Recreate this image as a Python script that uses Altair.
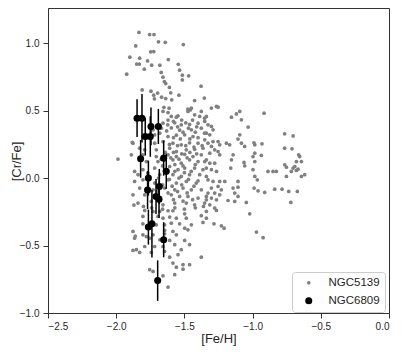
import altair as alt
import pandas as pd

# NGC5139 (grey points): [Fe/H], [Cr/Fe]
ngc5139_feh = [
    -1.833, -1.755, -1.723, -1.857, -1.690, -1.640, -1.508, -1.747, -1.725, -1.900,
    -1.828, -1.850, -1.830, -1.770, -1.794, -1.740, -1.680, -1.618, -1.545, -1.535,
    -1.923, -1.670, -1.657, -1.647, -1.515, -1.515, -1.469, -1.637, -1.610, -1.378,
    -1.810, -1.745, -1.725, -1.696, -1.600, -1.540, -1.720, -1.667, -1.637, -1.593,
    -1.354, -1.425,
    -1.650, -1.612, -1.474, -1.449, -1.302, -1.265, -1.253, -1.457,
    # core (upper)
    -1.657, -1.620, -1.547, -1.474, -1.425, -1.376, -1.339, -1.596, -1.559, -1.388,
    -1.352, -1.657, -1.622, -1.571, -1.523, -1.462, -1.400, -1.730, -1.669, -1.596,
    -1.535, -1.449, -1.376, -1.877, -1.804, -1.718, -1.681, -1.620, -1.559, -1.498,
    -1.437, -1.352, -1.828, -1.718, -1.657, -1.584, -1.523, -1.462, -1.400, -1.791,
    -1.706, -1.608, -1.559, -1.486, -1.425, -1.364, -1.889, -1.804, -1.706, -1.620,
    -1.559, -1.498, -1.437, -1.376, -1.987, -1.779, -1.694, -1.584, -1.523, -1.462,
    -1.400, -1.339, -1.865, -1.804, -1.718, -1.608, -1.547, -1.498, -1.425, -1.364,
    -1.840, -1.767, -1.681, -1.584, -1.523, -1.462, -1.388, -1.339, -1.865, -1.804,
    -1.718, -1.620, -1.559, -1.486, -1.413, -1.828, -1.730, -1.645, -1.571, -1.510,
    -1.449, -1.376, -1.877, -1.791, -1.694, -1.596, -1.535, -1.474, -1.400, -1.339,
    -1.840, -1.743, -1.657, -1.571, -1.486, -1.425, -1.352,
    # core extra
    -1.62, -1.58, -1.52, -1.49, -1.44, -1.41, -1.55, -1.47, -1.63, -1.51,
    -1.42, -1.58, -1.53, -1.46, -1.40, -1.61, -1.55, -1.49, -1.43, -1.37,
    -1.64, -1.58, -1.52, -1.46, -1.41, -1.67, -1.60, -1.54, -1.48, -1.42,
    -1.66, -1.57, -1.51, -1.45, -1.63, -1.57, -1.50, -1.69, -1.61, -1.54,
    -1.47, -1.40, -1.66, -1.59, -1.52, -1.43, -1.62, -1.55, -1.48, -1.70,
    -1.58, -1.51, -1.44, -1.74, -1.66, -1.57, -1.50, -1.42, -1.36, -1.80,
    -1.882, -1.87, -1.86,
    # right part
    -1.351, -1.327, -1.302, -1.290, -1.339, -1.314, -1.351, -1.327, -1.290, -1.253,
    -1.241, -1.302, -1.278, -1.253, -1.241, -1.314, -1.351, -1.314, -1.278, -1.339,
    -1.302, -1.265, -1.327, -1.290, -1.241, -1.204, -1.302, -1.253, -1.229, -1.327,
    -1.278, -1.241, -1.339, -1.302, -1.265, -1.314, -1.278,
    -1.155, -1.119, -1.094, -1.082, -1.033, -0.916,
    -1.094, -1.107, -1.082, -1.192, -1.168, -1.058, -0.984, -0.990, -0.931,
    -0.984, -0.997, -0.936, -1.143, -1.155, -0.984, -1.063, -1.058, -0.997, -0.984,
    -0.965, -1.160, -0.887, -0.850, -0.826, -0.765, -0.703, -0.765, -0.711, -0.662,
    -0.655, -0.679, -0.642, -0.765, -0.752, -0.703, -0.691, -0.667, -0.716, -0.679,
    -0.752, -0.642, -0.618,
    -1.107, -1.107, -1.143, -1.131, -1.107, -1.180, -1.131, -1.046, -0.989, -0.960,
    -0.911, -0.838, -0.784, -0.735, -0.672, -0.720,
    # lower part
    -1.791, -1.730, -1.681, -1.620, -1.584, -1.498, -1.376, -1.804, -1.694, -1.657,
    -1.608, -1.559, -1.486, -1.804, -1.706, -1.645, -1.596, -1.535, -1.449, -1.364,
    -1.498, -1.474, -1.877, -1.804, -1.779, -1.730, -1.645, -1.645, -1.584, -1.559,
    -1.865, -1.755, -1.681, -1.608, -1.498, -1.462, -1.791, -1.718, -1.657, -1.571,
    -1.877, -1.852, -1.828, -1.743, -1.645, -1.523, -1.547, -1.608, -1.376, -1.584,
    -1.559, -1.510, -1.462, -1.510, -1.755, -1.730, -1.657, -1.571, -1.620,
    -1.339, -1.265, -1.339, -1.283, -1.229, -1.209, -1.021, -0.972, -0.923,
]
ngc5139_crfe = [
    1.080, 1.064, 1.064, 0.980, 1.010, 1.007, 0.990, 0.936, 0.938, 0.896,
    0.889, 0.845, 0.845, 0.869, 0.807, 0.837, 0.837, 0.879, 0.844, 0.800,
    0.770, 0.783, 0.748, 0.716, 0.763, 0.728, 0.758, 0.701, 0.672, 0.681,
    0.654, 0.644, 0.615, 0.630, 0.632, 0.615, 0.588, 0.600, 0.590, 0.580,
    0.593, 0.575,
    0.525, 0.518, 0.511, 0.518, 0.519, 0.531, 0.526, 0.505,
    # core (upper)
    0.494, 0.486, 0.462, 0.494, 0.469, 0.494, 0.457, 0.457, 0.452, 0.457,
    0.444, 0.407, 0.395, 0.410, 0.395, 0.398, 0.407, 0.358, 0.370, 0.372,
    0.356, 0.358, 0.370, 0.259, 0.308, 0.321, 0.333, 0.308, 0.318, 0.321,
    0.308, 0.333, 0.222, 0.259, 0.271, 0.259, 0.247, 0.262, 0.259, 0.210,
    0.210, 0.222, 0.197, 0.210, 0.213, 0.222, 0.173, 0.173, 0.160, 0.173,
    0.160, 0.176, 0.160, 0.173, 0.141, 0.123, 0.123, 0.136, 0.111, 0.136,
    0.123, 0.136, 0.049, 0.062, 0.074, 0.086, 0.062, 0.074, 0.074, 0.062,
    0.025, 0.037, 0.025, 0.025, 0.012, 0.025, 0.025, 0.012, -0.025, -0.013,
    -0.037, -0.013, -0.037, -0.025, -0.037, -0.074, -0.087, -0.074, -0.087, -0.074,
    -0.087, -0.087, -0.124, -0.124, -0.136, -0.124, -0.136, -0.136, -0.148, -0.136,
    -0.185, -0.173, -0.198, -0.185, -0.185, -0.198, -0.185,
    # core extra
    0.43, 0.42, 0.43, 0.41, 0.43, 0.38, 0.38, 0.37, 0.35, 0.34,
    0.34, 0.30, 0.29, 0.29, 0.30, 0.25, 0.24, 0.24, 0.23, 0.24,
    0.19, 0.19, 0.18, 0.19, 0.18, 0.14, 0.15, 0.14, 0.15, 0.10,
    0.09, 0.10, 0.09, 0.05, 0.04, 0.05, 0.04, 0.00, -0.01, 0.00,
    -0.01, -0.02, -0.05, -0.06, -0.05, -0.06, -0.11, -0.10, -0.11, -0.10,
    -0.16, -0.17, -0.16, -0.22, -0.23, -0.22, -0.23, -0.22, -0.21, -0.21,
    0.264, -0.20, -0.43,
    # right part
    0.420, 0.395, 0.383, 0.358, 0.333, 0.321, 0.284, 0.259, 0.271, 0.271,
    0.247, 0.235, 0.210, 0.197, 0.173, 0.185, 0.123, 0.111, 0.111, 0.074,
    0.062, 0.049, -0.013, -0.025, -0.025, -0.025, -0.074, -0.062, -0.087, -0.111,
    -0.111, -0.124, -0.161, -0.148, -0.161, -0.198, -0.222,
    0.452, 0.476, 0.494, 0.432, 0.378, 0.481,
    0.321, 0.289, 0.259, 0.259, 0.247, 0.235, 0.247, 0.262, 0.254,
    0.185, 0.160, 0.168, 0.173, 0.136, 0.123, 0.116, 0.091, 0.062, 0.012,
    -0.013, 0.074, 0.049, 0.049, 0.049, 0.328, 0.313, 0.222, 0.217, 0.173,
    0.160, 0.123, 0.123, 0.099, 0.081, 0.074, 0.086, 0.066, 0.049, 0.057,
    0.012, 0.012, 0.025,
    -0.025, -0.067, -0.074, -0.111, -0.136, -0.166, -0.173, -0.180, -0.074, -0.094,
    -0.106, -0.082, -0.082, -0.099, -0.099, -0.180,
    # lower part
    -0.240, -0.247, -0.247, -0.242, -0.242, -0.265, -0.279, -0.284, -0.284, -0.297,
    -0.289, -0.297, -0.297, -0.339, -0.346, -0.346, -0.334, -0.339, -0.346, -0.329,
    -0.371, -0.383, -0.395, -0.420, -0.433, -0.420, -0.388, -0.413, -0.395, -0.420,
    -0.445, -0.445, -0.457, -0.462, -0.462, -0.494, -0.507, -0.507, -0.507, -0.494,
    -0.536, -0.531, -0.551, -0.551, -0.544, -0.531, -0.568, -0.586, -0.586, -0.630,
    -0.660, -0.642, -0.642, -0.675, -0.679, -0.692, -0.724, -0.716, -0.808,
    -0.247, -0.240, -0.297, -0.339, -0.354, -0.371, -0.265, -0.400, -0.442,
]

# NGC6809 (black points with error bars)
ngc6809_feh = [-1.847, -1.811, -1.787, -1.745, -1.750, -1.691, -1.821, -1.652, -1.633,
               -1.764, -1.770, -1.684, -1.708, -1.686, -1.764, -1.738, -1.652, -1.696]
ngc6809_crfe = [0.444, 0.444, 0.308, 0.383, 0.308, 0.383, 0.143, 0.148, 0.050,
                0.000, -0.089, -0.062, -0.136, -0.156, -0.363, -0.339, -0.457, -0.760]
ngc6809_err = [0.14, 0.18, 0.14, 0.14, 0.15, 0.13, 0.14, 0.13, 0.13,
               0.13, 0.14, 0.13, 0.13, 0.14, 0.13, 0.25, 0.13, 0.15]

series_names = ["NGC5139", "NGC6809"]
series_colors = ["#808080", "#000000"]
series_sizes = [14, 50]

n1 = min(len(ngc5139_feh), len(ngc5139_crfe))
df1 = pd.DataFrame({"feh": ngc5139_feh[:n1], "crfe": ngc5139_crfe[:n1], "series": "NGC5139"})
df2 = pd.DataFrame({"feh": ngc6809_feh, "crfe": ngc6809_crfe, "err": ngc6809_err, "series": "NGC6809"})

FONT = "Liberation Sans"
TXT = "#262626"

x_enc = alt.X("feh:Q", title="[Fe/H]",
              scale=alt.Scale(domain=[-2.5, 0.0], nice=False, zero=False),
              axis=alt.Axis(values=[-2.5, -2.0, -1.5, -1.0, -0.5, 0.0], format=".1f",
                            titleY=19, titleBaseline="top"))
y_axis = alt.Axis(values=[-1.0, -0.5, 0.0, 0.5, 1.0], format=".1f",
                  titleX=-32, titleY=153, titleAngle=-90, titleAlign="center", titleBaseline="middle")
y_scale = alt.Scale(domain=[-1.0, 1.261], nice=False, zero=False)

color_enc = alt.Color("series:N", scale=alt.Scale(domain=series_names, range=series_colors),
                      legend=alt.Legend(title=None))
size_enc = alt.Size("series:N", scale=alt.Scale(domain=series_names, range=series_sizes),
                    legend=alt.Legend(title=None))

grey = alt.Chart(df1).mark_circle(opacity=1).encode(
    x=x_enc,
    y=alt.Y("crfe:Q", title="[Cr/Fe]", scale=y_scale, axis=y_axis),
    color=color_enc, size=size_enc,
)

bars = alt.Chart(df2).transform_calculate(
    lo="datum.crfe - datum.err", hi="datum.crfe + datum.err"
).mark_rule(color="#000000", strokeWidth=1.5).encode(
    x=alt.X("feh:Q", title="[Fe/H]"),
    y=alt.Y("lo:Q", title="[Cr/Fe]"),
    y2="hi:Q",
)

black = alt.Chart(df2).mark_circle(opacity=1).encode(
    x=alt.X("feh:Q", title="[Fe/H]"),
    y=alt.Y("crfe:Q", title="[Cr/Fe]"),
    color=color_enc, size=size_enc,
)

chart = alt.layer(grey, bars, black).properties(
    width=341, height=305,
    padding={"left": 40, "top": 0, "right": 10, "bottom": 40},
    autosize="none",
).configure_view(
    stroke="#333333", strokeWidth=1
).configure_axis(
    grid=False, domainColor="#333333", tickColor="#333333", tickSize=5,
    labelFont=FONT, labelFontSize=10, labelColor=TXT,
    titleFont=FONT, titleFontSize=13, titleFontWeight="normal", titleColor=TXT,
).configure_axisX(labelPadding=3).configure_axisY(labelPadding=4).configure_legend(
    orient="none", legendX=244, legendY=264,
    strokeColor="#cccccc", fillColor="white", cornerRadius=3, padding=5,
    labelFont=FONT, labelFontSize=11.5, labelColor=TXT, rowPadding=5,
    symbolStrokeWidth=0, labelOffset=14, symbolOffset=6,
)

chart.save("out.html", embed_options={"renderer": "svg", "actions": False})
